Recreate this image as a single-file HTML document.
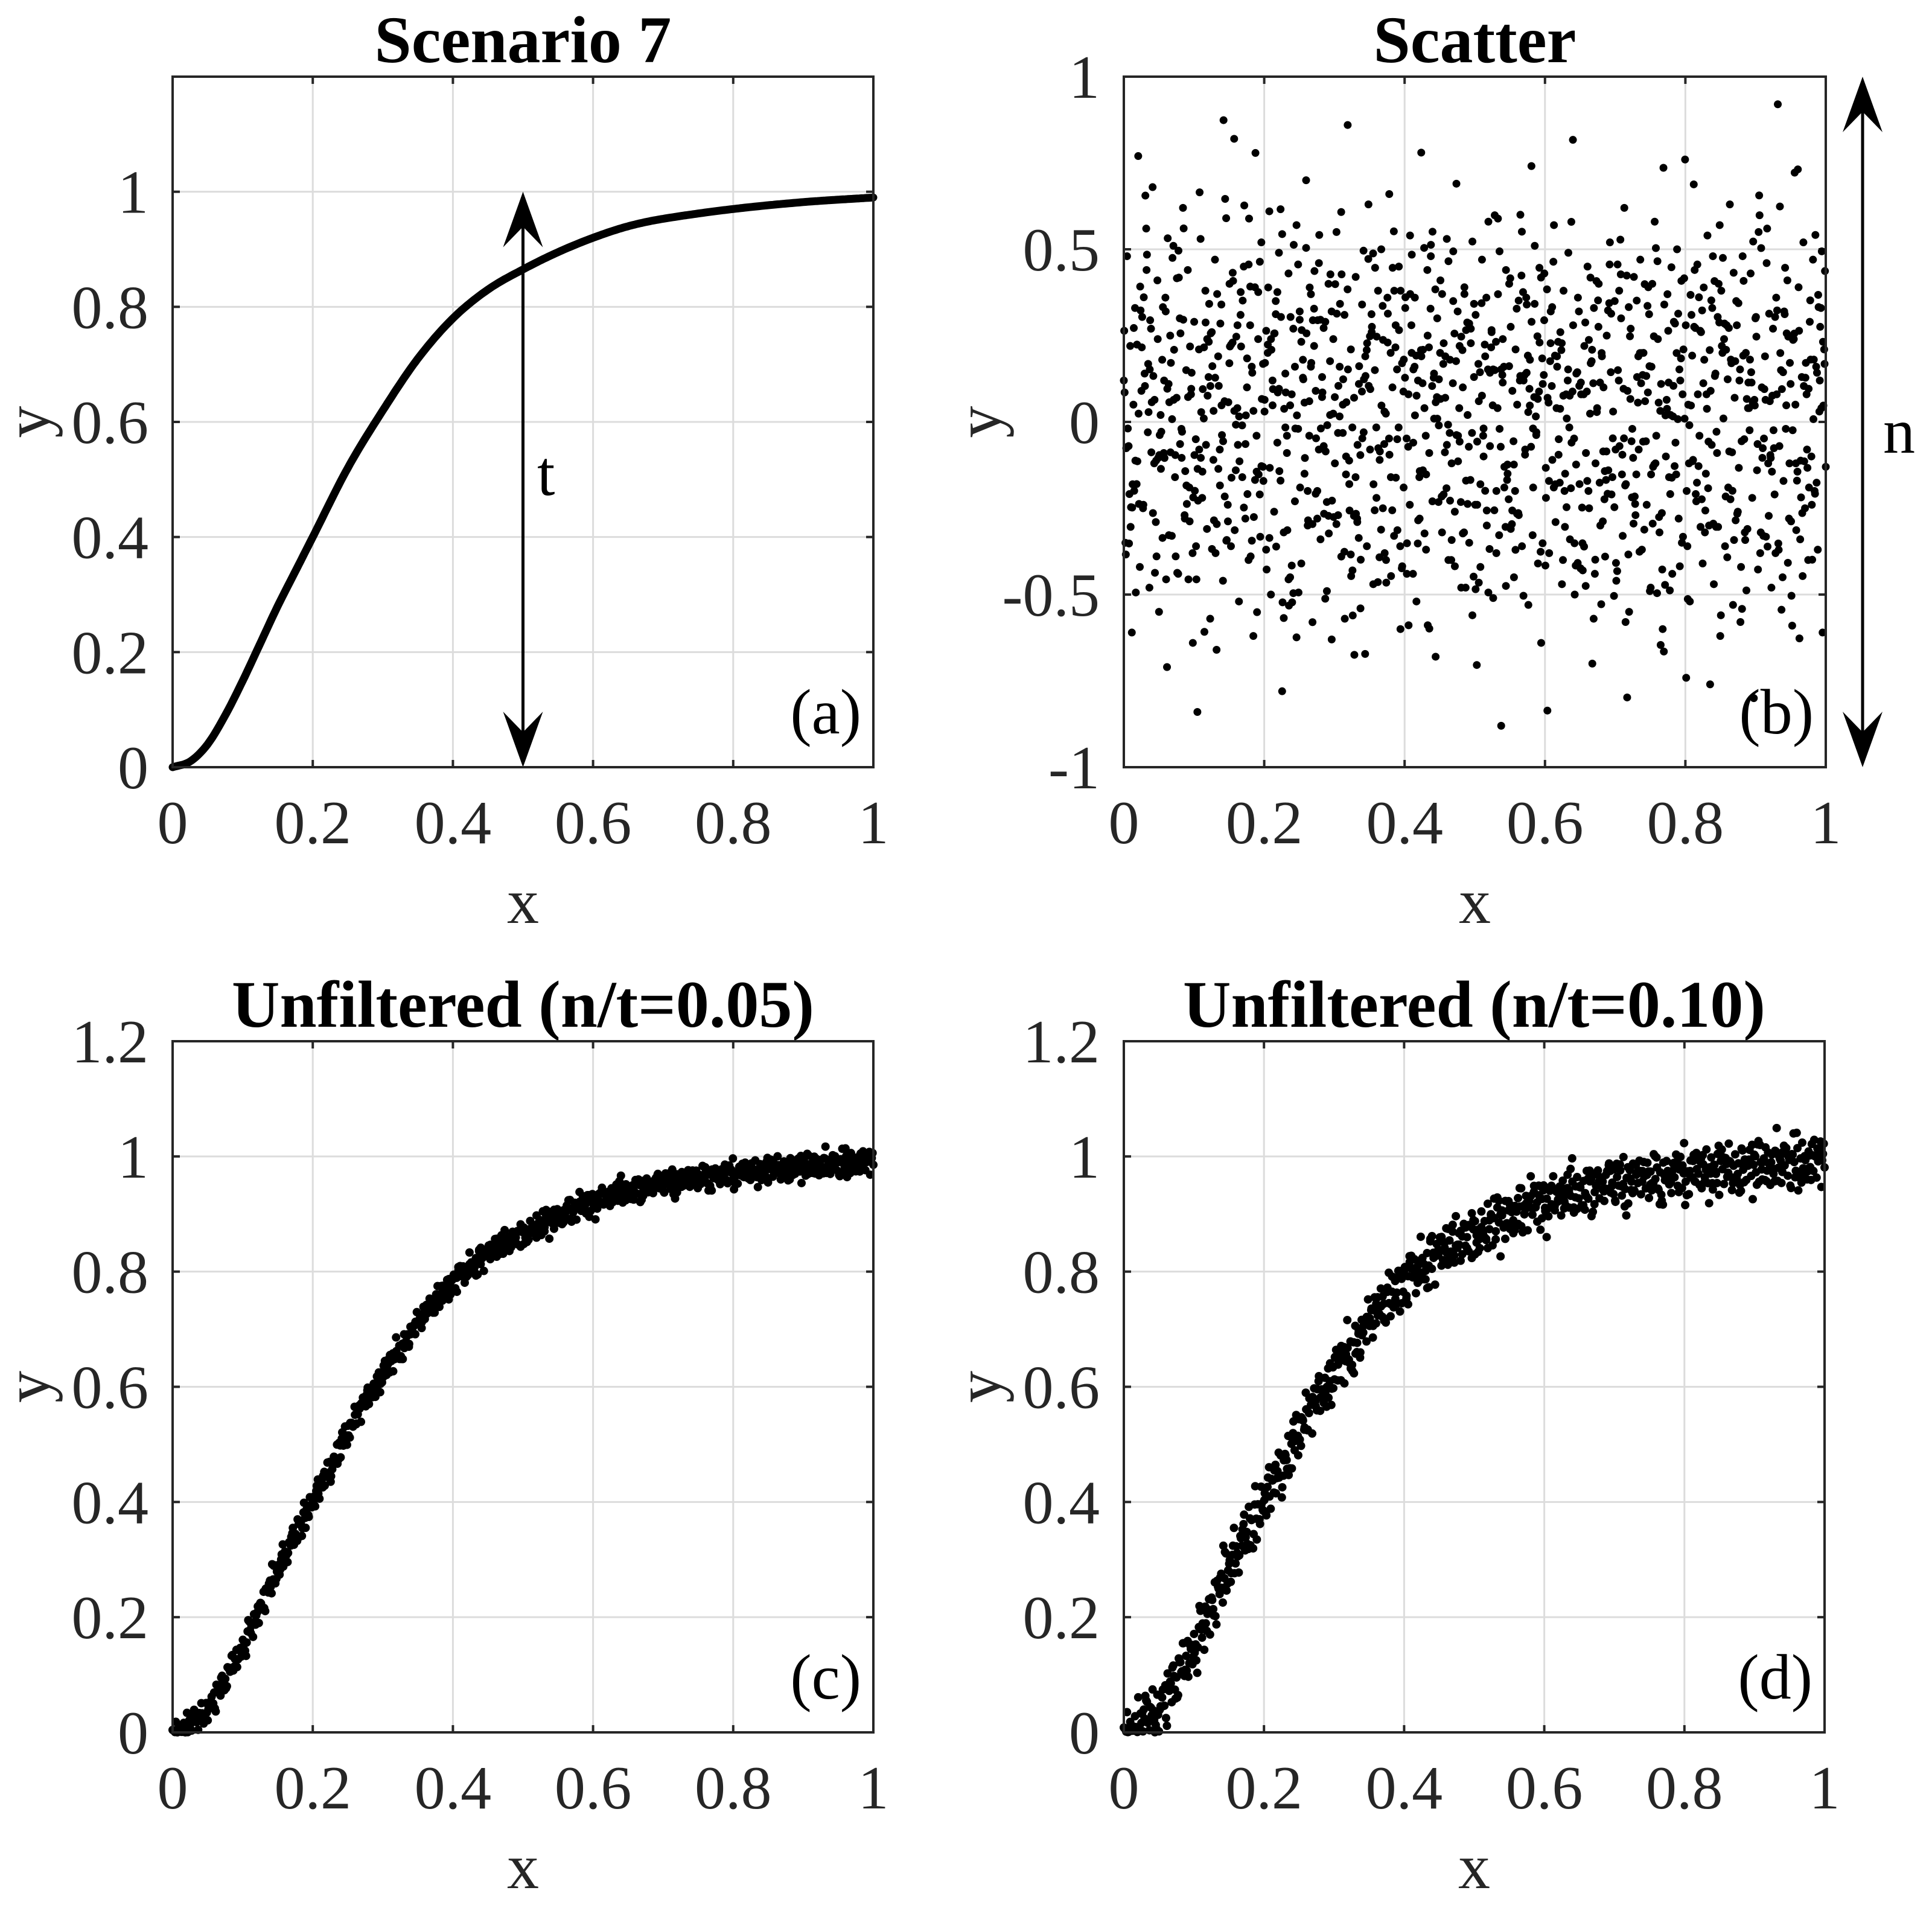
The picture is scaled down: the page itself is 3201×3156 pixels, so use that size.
<!DOCTYPE html>
<html><head><meta charset="utf-8">
<style>
html,body{margin:0;padding:0;background:#fff;}
svg{display:block;font-family:"Liberation Serif","Times New Roman",serif;}
</style></head>
<body>
<svg id="fig" width="3201" height="3156" viewBox="0 0 3201 3156" xmlns="http://www.w3.org/2000/svg">
<rect x="0" y="0" width="3201" height="3156" fill="#fff"/>
</svg>
<script>
// ---- data ----
const curveX = [0,0.025,0.05,0.075,0.1,0.125,0.15,0.175,0.2,0.25,0.3,0.35,0.4,0.45,0.5,0.55,0.6,0.65,0.7,0.8,0.9,1.0];
const curveY = [0,0.01,0.04,0.09,0.15,0.215,0.28,0.34,0.40,0.52,0.62,0.71,0.78,0.83,0.865,0.895,0.92,0.94,0.953,0.97,0.982,0.99];
const xTicks = [0,0.2,0.4,0.6,0.8,1];
const xTickLabels = ["0","0.2","0.4","0.6","0.8","1"];
const yTicksA = [0,0.2,0.4,0.6,0.8,1];
const yTickLabelsA = ["0","0.2","0.4","0.6","0.8","1"];
const yTicksB = [-1,-0.5,0,0.5,1];
const yTickLabelsB = ["-1","-0.5","0","0.5","1"];
const yTicksC = [0,0.2,0.4,0.6,0.8,1,1.2];
const yTickLabelsC = ["0","0.2","0.4","0.6","0.8","1","1.2"];
const noiseLevelC = 0.05;
const noiseLevelD = 0.10;
const noise = [
0.12,-0.35,0.48,-0.07,0.22,-0.61,0.05,0.33,-0.18,0.77,-0.42,0.09,-0.25,0.14,0.56,-0.03,-0.48,0.27,0.68,-0.12,
-0.29,0.41,-0.55,0.02,0.18,-0.09,0.36,-0.71,0.11,0.25,-0.33,0.51,-0.16,0.07,-0.44,0.30,-0.02,0.62,-0.27,0.15,
0.44,-0.19,0.08,-0.38,0.29,-0.05,-0.84,0.21,0.53,-0.22,0.01,0.38,-0.31,0.13,-0.57,0.26,-0.11,0.47,-0.66,0.19,
-0.08,0.34,-0.46,0.06,0.59,-0.24,0.17,-0.36,0.23,0.82,-0.14,0.04,-0.52,0.31,-0.01,0.45,-0.28,0.10,-0.40,0.28,
0.16,-0.62,0.39,-0.04,0.24,-0.21,0.52,-0.13,0.03,-0.37,0.20,0.61,-0.50,0.12,-0.26,0.35,-0.06,0.49,-0.17,-0.78,
-0.32,0.14,-0.09,0.43,-0.45,0.08,0.27,-0.23,0.57,-0.02,0.32,-0.41,0.18,-0.15,0.70,-0.30,0.06,0.37,-0.58,0.22,
0.09,-0.20,0.46,-0.34,0.13,-0.07,0.29,-0.49,0.40,0.02,-0.63,0.24,-0.12,0.55,-0.27,0.16,-0.39,0.05,0.31,-0.10,
0.86,-0.18,0.21,-0.43,0.07,0.42,-0.29,0.11,-0.54,0.34,-0.03,0.19,-0.36,0.63,-0.08,0.26,-0.47,0.15,-0.22,0.38,
-0.11,0.50,-0.25,0.03,-0.40,0.23,0.66,-0.16,0.10,-0.33,0.28,-0.05,0.45,-0.60,0.17,-0.19,0.33,-0.44,0.08,0.54,
0.20,-0.06,0.36,-0.52,0.12,-0.28,0.78,-0.14,0.04,-0.37,0.25,-0.09,0.48,-0.23,0.14,-0.68,0.30,-0.01,0.41,-0.32,
-0.21,0.07,0.53,-0.40,0.18,-0.12,0.35,-0.26,0.69,-0.04,0.22,-0.48,0.10,0.39,-0.17,0.02,-0.35,0.27,-0.56,0.13,
0.31,-0.24,0.06,-0.42,0.47,-0.10,0.19,-0.30,0.58,-0.07,0.26,-0.51,0.15,-0.20,0.37,-0.02,-0.88,0.24,-0.13,0.44,
-0.15,0.40,-0.31,0.09,-0.45,0.21,0.05,-0.27,0.60,-0.36,0.12,-0.08,0.34,-0.53,0.18,0.29,-0.19,0.51,-0.03,-0.41,
0.23,-0.64,0.11,0.43,-0.22,0.07,-0.38,0.32,-0.11,0.57,-0.29,0.16,-0.05,0.26,-0.47,0.38,-0.15,0.01,0.49,-0.34,
-0.06,0.28,-0.50,0.14,0.36,-0.18,0.08,-0.43,0.22,-0.09,0.45,-0.25,0.17,-0.70,0.33,-0.12,0.04,0.40,-0.30,0.19,
0.10,-0.39,0.25,-0.14,0.52,-0.21,0.03,0.35,-0.46,0.15,-0.07,0.30,-0.33,0.62,-0.18,0.09,-0.55,0.27,-0.02,0.42,
-0.27,0.13,-0.08,0.47,-0.37,0.20,0.06,-0.24,0.39,-0.49,0.16,-0.13,0.58,-0.04,0.24,-0.32,0.11,-0.60,0.34,-0.10,
0.37,-0.16,0.02,-0.44,0.29,-0.06,0.50,-0.28,0.12,-0.35,0.21,0.76,-0.20,0.05,-0.52,0.31,-0.11,0.44,-0.23,0.08,
-0.04,0.26,-0.41,0.18,-0.15,0.54,-0.30,0.09,0.33,-0.47,0.14,-0.09,0.40,-0.62,0.22,0.01,-0.36,0.28,-0.19,0.63,
0.17,-0.53,0.07,0.35,-0.26,0.12,-0.42,0.48,-0.05,0.20,-0.31,0.04,0.43,-0.22,-0.80,0.30,-0.14,0.55,-0.38,0.10,
-0.33,0.19,0.46,-0.12,0.06,-0.48,0.27,-0.21,0.36,0.92,-0.07,0.15,-0.45,0.32,-0.02,0.41,-0.28,0.11,-0.59,0.24,
0.05,-0.17,0.39,-0.34,0.13,0.52,-0.25,0.08,-0.40,0.29,-0.10,0.47,-0.20,0.16,-0.37,0.03,0.33,-0.61,0.21,-0.13
];

const NS = "http://www.w3.org/2000/svg";
const fig = document.getElementById('fig');
function el(tag, attrs, parent){
  const e = document.createElementNS(NS, tag);
  for (const k in attrs) e.setAttribute(k, attrs[k]);
  (parent||fig).appendChild(e);
  return e;
}
// smooth cubic Hermite interpolation through curve data
function slopeAt(i){
  const n=curveX.length;
  if (i===0) return (curveY[1]-curveY[0])/(curveX[1]-curveX[0]);
  if (i===n-1) return (curveY[n-1]-curveY[n-2])/(curveX[n-1]-curveX[n-2]);
  return (curveY[i+1]-curveY[i-1])/(curveX[i+1]-curveX[i-1]);
}
function curveAt(x){
  for (let i=1;i<curveX.length;i++){
    if (x<=curveX[i]){
      const h=curveX[i]-curveX[i-1];
      const t=(x-curveX[i-1])/h;
      const h00=2*t*t*t-3*t*t+1, h10=t*t*t-2*t*t+t, h01=-2*t*t*t+3*t*t, h11=t*t*t-t*t;
      return h00*curveY[i-1]+h10*h*slopeAt(i-1)+h01*curveY[i]+h11*h*slopeAt(i);
    }
  }
  return curveY[curveY.length-1];
}

function makeAxes(name, L, T, R, B, ymin, ymax, yt, ytl, title, tag){
  const g = el('g', {});
  
  
  const sx = v => L + (v-0)/(1-0)*(R-L);
  const sy = v => B - (v-ymin)/(ymax-ymin)*(B-T);
  xTicks.forEach((v,i)=>{
    if (i===0||i===xTicks.length-1) return;
    const ln = el('line',{x1:sx(v),x2:sx(v),y1:T,y2:B,stroke:'#dcdcdc','stroke-width':3},g);
    
    
  });
  yt.forEach(v=>{
    if (v===ymin||v===ymax) return;
    const ln = el('line',{x1:L,x2:R,y1:sy(v),y2:sy(v),stroke:'#dcdcdc','stroke-width':3},g);
    
    
  });
  xTicks.forEach((v,i)=>{
    el('line',{x1:sx(v),x2:sx(v),y1:B,y2:B-12,stroke:'#262626','stroke-width':4},g);
    el('line',{x1:sx(v),x2:sx(v),y1:T,y2:T+12,stroke:'#262626','stroke-width':4},g);
    const t = el('text',{x:sx(v),y:B+126,'font-size':102,'text-anchor':'middle',fill:'#262626'},g);
    t.textContent = xTickLabels[i];
    
    
  });
  yt.forEach((v,i)=>{
    el('line',{x1:L,x2:L+12,y1:sy(v),y2:sy(v),stroke:'#262626','stroke-width':4},g);
    el('line',{x1:R,x2:R-12,y1:sy(v),y2:sy(v),stroke:'#262626','stroke-width':4},g);
    const t = el('text',{x:L-40,y:sy(v)+35,'font-size':102,'text-anchor':'end',fill:'#262626'},g);
    t.textContent = ytl[i];
    
    
  });
  const xl = el('text',{x:(L+R)/2,y:B+258,'font-size':106,'text-anchor':'middle',fill:'#262626'},g);
  xl.textContent='x';
  
  
  const yx = L-205, yy=(T+B)/2;
  const yl = el('text',{x:yx,y:yy,'font-size':106,'text-anchor':'middle',fill:'#262626',transform:`rotate(-90 ${yx} ${yy})`},g);
  yl.textContent='y';
  
  
  const tt = el('text',{x:(L+R)/2,y:T-24,'font-size':110,'font-weight':'bold','text-anchor':'middle',fill:'#000'},g);
  tt.textContent=title;
  
  
  const pt = el('text',{x:R-20,y:B-56,'font-size':106,'text-anchor':'end',fill:'#000'},g);
  pt.textContent=tag;
  
  
  return {g,sx,sy,L,T,R,B};
}
function frame(ax){
  const r = el('rect',{x:ax.L,y:ax.T,width:ax.R-ax.L,height:ax.B-ax.T,fill:'none',stroke:'#262626','stroke-width':4},ax.g);
  
  
}
function arrow(g, x, y1, y2, name){
  const a = el('g',{},g);
  
  
  el('line',{x1:x,x2:x,y1:y1+10,y2:y2-10,stroke:'#000','stroke-width':5},a);
  el('path',{d:`M${x} ${y1} L${x-33} ${y1+92} L${x} ${y1+58} L${x+33} ${y1+92} Z`,fill:'#000'},a);
  el('path',{d:`M${x} ${y2} L${x-33} ${y2-92} L${x} ${y2-58} L${x+33} ${y2-92} Z`,fill:'#000'},a);
}

// Panel (a)
const A = makeAxes('panel-a',286,127,1447,1271,0,1.2,yTicksA,yTickLabelsA,'Scenario 7','(a)');
let d='';
for (let i=0;i<=300;i++){ const x=i/300; d+=(i?'L':'M')+A.sx(x).toFixed(1)+' '+A.sy(curveAt(x)).toFixed(1); }
const cp = el('path',{d,fill:'none',stroke:'#000','stroke-width':13,'stroke-linejoin':'round','stroke-linecap':'round'},A.g);


arrow(A.g, A.sx(0.5), A.sy(1), A.sy(0), 't-arrow');
const tl = el('text',{x:890,y:820,'font-size':106,fill:'#000'},A.g);
tl.textContent='t';


frame(A);

// Panel (b)
const Bx = makeAxes('panel-b',1862,127,3025,1271,-1,1,yTicksB,yTickLabelsB,'Scatter','(b)');
const N = noise.length;
for (let rep=0; rep<3; rep++){
  noise.forEach((v,i)=>{
    const x = rep===0 ? i/(N-1) : rep===1 ? ((i*37)%N + 0.5)/N : ((i*101)%N + 0.25)/N;
    const y = rep===0 ? v : rep===1 ? noise[(i*53+11)%N]*0.95 : noise[(i*29+7)%N]*0.8;
    const c = el('circle',{cx:Bx.sx(x),cy:Bx.sy(y),r:6.5,fill:'#000'},Bx.g);
    
    
  });
}
arrow(Bx.g, 3086, 127, 1271, 'n-arrow');
const nl = el('text',{x:3120,y:750,'font-size':106,fill:'#000'},Bx.g);
nl.textContent='n';


frame(Bx);

// Panels (c),(d)
function noisyPanel(name,L,title,tag,level){
  const P = makeAxes(name,L,1725,L+1161,2870,0,1.2,yTicksC,yTickLabelsC,title,tag);
  for (let rep=0; rep<2; rep++){
    noise.forEach((v,i)=>{
      const x = rep===0 ? i/(N-1) : ((i*37)%N + 0.5)/N;
      const nv = rep===0 ? v : noise[(i*53+11)%N];
      let y = curveAt(x) + level*nv*0.7;
      if (y<0) y=Math.abs(y)*0.3;
      const c = el('circle',{cx:P.sx(x),cy:P.sy(y),r:7,fill:'#000'},P.g);
      
      
    });
  }
  frame(P);
}
noisyPanel('panel-c',286,'Unfiltered (n/t=0.05)','(c)',noiseLevelC);
noisyPanel('panel-d',1862,'Unfiltered (n/t=0.10)','(d)',noiseLevelD);
</script>
</body></html>
